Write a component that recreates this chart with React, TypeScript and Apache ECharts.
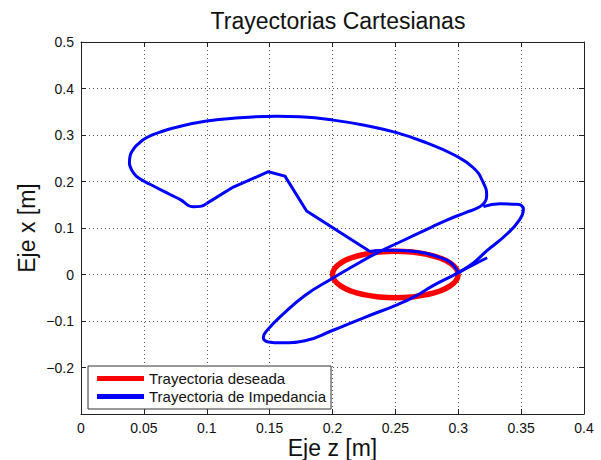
import React, { useEffect, useRef } from "react";
import * as echarts from "echarts";

// Axis ranges (Eje z horizontal, Eje x vertical)
const zAxisMin = 0;
const zAxisMax = 0.4;
const zAxisStep = 0.05;
const xAxisMin = -0.3;
const xAxisMax = 0.5;
const xAxisStep = 0.1;
const hiddenTickLabels = [-0.3];

const titleText = "Trayectorias Cartesianas";
const zAxisName = "Eje z [m]";
const xAxisName = "Eje x [m]";
const desiredName = "Trayectoria deseada";
const impedanceName = "Trayectoria de Impedancia";

// [z, x] points
const desiredTrajectory: [number, number][] = [
  [0.3, 0], [0.2983, 0.0129], [0.2933, 0.025], [0.2854, 0.0354], [0.275, 0.0433],
  [0.2629, 0.0483], [0.25, 0.05], [0.2371, 0.0483], [0.225, 0.0433], [0.2146, 0.0354],
  [0.2067, 0.025], [0.2017, 0.0129], [0.2, 0], [0.2017, -0.0129], [0.2067, -0.025],
  [0.2146, -0.0354], [0.225, -0.0433], [0.2371, -0.0483], [0.25, -0.05], [0.2629, -0.0483],
  [0.275, -0.0433], [0.2854, -0.0354], [0.2933, -0.025], [0.2983, -0.0129], [0.3, 0],
];

const impedanceTail: [number, number][] = [
  [0.3, 0.004], [0.3106, 0.019], [0.323, 0.036],
];

const impedanceArc: [number, number][] = [
  [0.3, 0.004], [0.2975, 0.015], [0.2934, 0.027], [0.285, 0.037], [0.275, 0.045],
  [0.262, 0.0505], [0.248, 0.052], [0.238, 0.0515], [0.2298, 0.0495],
];

const impedancePolyline: [number, number][] = [
  [0.2298, 0.0495], [0.1794, 0.1365], [0.1622, 0.2116], [0.149, 0.221],
  [0.1211, 0.188], [0.1, 0.153],
];

const impedanceLoop: [number, number][] = [
  [0.1, 0.153], [0.095, 0.1465], [0.0895, 0.1455], [0.0787, 0.1616], [0.0708, 0.172],
  [0.0549, 0.194], [0.0456, 0.208], [0.0416, 0.219], [0.039, 0.233], [0.0385, 0.24],
  [0.039, 0.2545], [0.0416, 0.269], [0.0456, 0.281], [0.052, 0.294], [0.0628, 0.306],
  [0.0735, 0.315], [0.0999, 0.33], [0.1264, 0.337], [0.1556, 0.3404], [0.1742, 0.339],
  [0.2006, 0.332], [0.2272, 0.32], [0.251, 0.305], [0.2749, 0.283], [0.2961, 0.258],
  [0.312, 0.2296], [0.32, 0.197], [0.3226, 0.169], [0.321, 0.155], [0.316, 0.144],
  [0.3067, 0.134], [0.29, 0.116], [0.275, 0.097], [0.2545, 0.071], [0.235, 0.046],
  [0.2152, 0.016], [0.1994, -0.009], [0.1781, -0.045], [0.1596, -0.088], [0.149, -0.117],
  [0.145, -0.135], [0.149, -0.145], [0.1596, -0.147], [0.178, -0.1425], [0.1994, -0.121],
  [0.2258, -0.092], [0.2523, -0.064], [0.2656, -0.047], [0.28, -0.024], [0.3, 0.004],
  [0.312, 0.025], [0.3226, 0.0506], [0.3385, 0.0865], [0.349, 0.1187], [0.3518, 0.14],
  [0.3465, 0.151], [0.3332, 0.152], [0.32, 0.146],
];

const FONT = "'Liberation Sans', Arial, Helvetica, sans-serif";
const RED = "#ff0000";
const BLUE = "#0000ff";

function fmt(v: number): string {
  const r = Math.round(v * 1000) / 1000;
  if (hiddenTickLabels.some((h) => Math.abs(h - r) < 1e-9)) return "";
  if (r < 0) return "\u2212" + String(Math.abs(r));
  return String(r);
}

export default function App() {
  const ref = useRef<HTMLDivElement>(null);

  useEffect(() => {
    if (!ref.current) return;
    const chart = echarts.init(ref.current, undefined, { renderer: "svg" });

    const axisLine = { show: true, onZero: false, lineStyle: { color: "#222", width: 1 } };
    const axisTick = { show: true, inside: true, length: 5, lineStyle: { color: "#222" } };
    const splitLine = { show: true, lineStyle: { color: "#555", type: [1, 3], width: 1 } };

    const blueLine = (data: [number, number][], smooth: boolean) => ({
      type: "line",
      name: impedanceName,
      data,
      smooth,
      symbol: "none",
      lineStyle: { color: BLUE, width: 3 },
      itemStyle: { color: BLUE },
      z: 3,
      silent: true,
    });

    chart.setOption({
      animation: false,
      textStyle: { fontFamily: FONT },
      title: {
        text: titleText,
        left: 333,
        textAlign: "center",
        top: 4,
        textStyle: { fontFamily: FONT, fontSize: 23, fontWeight: "normal", color: "#111" },
      },
      grid: { left: 81, right: 17, top: 42, bottom: 46, containLabel: false, outerBoundsMode: "none" },
      legend: {
        left: 88,
        top: 366,
        orient: "vertical",
        icon: "rect",
        itemWidth: 47,
        itemHeight: 5,
        itemGap: 3,
        padding: [5, 5, 5, 9],
        backgroundColor: "#fff",
        borderColor: "#333",
        borderWidth: 1,
        borderRadius: 0,
        selectedMode: false,
        data: [desiredName, impedanceName],
        textStyle: { fontFamily: FONT, fontSize: 15, lineHeight: 15, color: "#111" },
      },
      xAxis: [
        {
          type: "value",
          min: zAxisMin,
          max: zAxisMax,
          interval: zAxisStep,
          name: zAxisName,
          nameLocation: "middle",
          nameGap: 22,
          nameMoveOverlap: false,
          nameTextStyle: { fontFamily: FONT, fontSize: 23, color: "#111" },
          axisLine,
          axisTick,
          splitLine,
          axisLabel: { fontFamily: FONT, fontSize: 14, color: "#111", margin: 7, formatter: fmt },
        },
        {
          type: "value",
          position: "top",
          min: zAxisMin,
          max: zAxisMax,
          interval: zAxisStep,
          axisLine,
          axisTick,
          splitLine: { show: false },
          axisLabel: { show: false },
        },
      ],
      yAxis: [
        {
          type: "value",
          min: xAxisMin,
          max: xAxisMax,
          interval: xAxisStep,
          name: xAxisName,
          nameLocation: "middle",
          nameGap: 43,
          nameMoveOverlap: false,
          nameTextStyle: { fontFamily: FONT, fontSize: 23, color: "#111" },
          axisLine,
          axisTick,
          splitLine,
          axisLabel: { fontFamily: FONT, fontSize: 14, color: "#111", margin: 7, formatter: fmt },
        },
        {
          type: "value",
          position: "right",
          min: xAxisMin,
          max: xAxisMax,
          interval: xAxisStep,
          axisLine,
          axisTick,
          splitLine: { show: false },
          axisLabel: { show: false },
        },
      ],
      series: [
        {
          type: "line",
          name: desiredName,
          data: desiredTrajectory,
          smooth: true,
          symbol: "none",
          lineStyle: { color: RED, width: 5.5 },
          itemStyle: { color: RED },
          z: 2,
          silent: true,
        },
        blueLine(impedanceTail, true),
        blueLine(impedanceArc, true),
        blueLine(impedancePolyline, false),
        blueLine(impedanceLoop, true),
      ],
    });

    return () => chart.dispose();
  }, []);

  return (
    <div
      ref={ref}
      style={{ position: "absolute", left: 0, top: 0, width: 601, height: 460, background: "#fff" }}
    />
  );
}
